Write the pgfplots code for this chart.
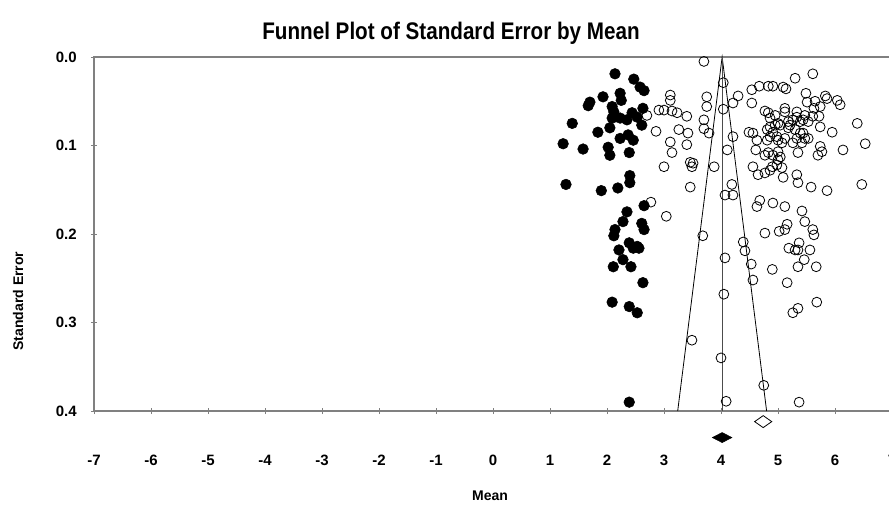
\documentclass[border=0pt]{standalone}
\usepackage{pgfplots}
\pgfplotsset{compat=1.18}
\usepackage{fontspec}
\setmainfont{Liberation Sans}

\begin{document}
\begin{tikzpicture}
\path[use as bounding box] (-70.5pt,-71.25pt) rectangle (596.25pt,308.25pt);
\clip (-70.5pt,-71.25pt) rectangle (596.25pt,308.25pt);
\begin{axis}[
  at={(0pt,0pt)}, anchor=south west,
  scale only axis,
  width=598.5pt, height=265.5pt,
  xmin=-7, xmax=7, ymin=0, ymax=0.4,
  y dir=reverse,
  xtick={-7,-6,...,7},
  ytick={0,0.1,0.2,0.3,0.4},
  xtick pos=bottom, ytick pos=left,
  tick align=center,
  major tick length=4.5pt,
  axis line style={gray, line width=0.8pt},
  tick style={gray, line width=0.6pt},
  clip=false,
  /pgf/number format/assume math mode=true,
  ticklabel style={font=\bfseries\fontsize{11.25}{13}\selectfont, inner sep=0pt},
  xticklabel style={anchor=center, yshift=-34.5pt},
  yticklabel style={anchor=east, xshift=-10.5pt,
    /pgf/number format/fixed, /pgf/number format/fixed zerofill,
    /pgf/number format/precision=1},
]
% studies
\addplot[only marks, mark=o, mark size=3.7pt, mark options={line width=0.6pt}, black] coordinates {
(3.70,0.005) (3.11,0.043) (3.11,0.049) (2.91,0.060) (3.00,0.060) (3.14,0.061)
(3.23,0.063) (3.40,0.067) (2.70,0.066) (3.75,0.045) (3.75,0.056) (3.70,0.071)
(3.70,0.081) (3.79,0.086) (4.04,0.029) (4.21,0.052) (4.04,0.059) (4.30,0.044)
(2.86,0.084) (3.26,0.082) (3.42,0.086) (3.11,0.096) (3.40,0.099) (3.14,0.108)
(4.21,0.090) (4.11,0.105) (3.46,0.119) (3.49,0.124) (3.51,0.120) (3.00,0.124)
(3.88,0.124) (3.46,0.147) (4.19,0.144) (4.07,0.156) (4.21,0.156) (2.77,0.164)
(3.04,0.180) (3.68,0.202) (4.07,0.227) (4.05,0.268) (3.49,0.320) (4.00,0.340)
(4.09,0.389)
(5.61,0.019) (5.30,0.024) (4.54,0.037) (4.67,0.033) (4.83,0.033) (4.91,0.033)
(5.09,0.034) (5.14,0.036) (5.49,0.041) (5.83,0.044) (5.86,0.047) (6.04,0.049)
(6.09,0.054) (5.51,0.051) (5.65,0.050) (4.54,0.052) (4.77,0.061) (4.83,0.063)
(4.95,0.066) (5.12,0.058) (5.12,0.062) (5.33,0.062) (5.33,0.068) (5.63,0.058)
(5.74,0.056) (5.72,0.067) (5.61,0.067) (5.47,0.066) (5.44,0.071) (5.53,0.073)
(6.39,0.075) (4.86,0.069) (5.00,0.075) (4.95,0.077) (4.49,0.085) (4.56,0.086)
(4.81,0.082) (4.86,0.079) (4.86,0.090) (4.91,0.085) (4.98,0.090) (5.04,0.077)
(5.18,0.073) (5.26,0.071) (5.21,0.077) (5.18,0.080) (5.30,0.082) (5.39,0.086)
(5.39,0.073) (5.74,0.079) (5.95,0.085) (5.44,0.086) (5.47,0.092) (4.63,0.094)
(4.81,0.094) (5.00,0.094) (5.07,0.097) (5.12,0.092) (5.26,0.097) (5.42,0.097)
(5.33,0.092) (5.53,0.092) (6.53,0.098) (4.61,0.105) (6.14,0.105) (5.74,0.101)
(5.77,0.107) (5.70,0.111) (4.77,0.111) (4.83,0.108) (4.91,0.111) (5.00,0.107)
(5.04,0.113) (4.98,0.122) (5.00,0.116) (5.35,0.108) (4.56,0.124) (4.65,0.133)
(4.77,0.131) (4.86,0.128) (4.90,0.124) (5.07,0.125) (5.09,0.136) (5.33,0.133)
(5.35,0.142) (5.58,0.147) (5.86,0.151) (6.47,0.144) (4.68,0.162) (4.63,0.169)
(4.91,0.165) (5.12,0.169) (5.42,0.174) (5.47,0.186) (5.16,0.189) (5.12,0.195)
(5.02,0.197) (5.61,0.195) (5.63,0.201) (4.77,0.199) (4.39,0.209) (4.42,0.219)
(5.37,0.210) (5.35,0.218) (5.30,0.218) (5.19,0.216) (5.56,0.218) (5.46,0.229)
(4.53,0.234) (4.56,0.252) (4.90,0.240) (5.35,0.237) (5.67,0.237) (5.16,0.255)
(5.68,0.277) (5.35,0.284) (5.26,0.289) (4.75,0.371) (5.37,0.390)
};
% imputed studies
\addplot[only marks, mark=*, mark size=4pt, black] coordinates {
(2.14,0.019) (2.47,0.025) (2.58,0.034) (2.65,0.038) (1.93,0.045) (1.70,0.051)
(1.67,0.055) (2.23,0.041) (2.25,0.049) (2.09,0.056) (2.12,0.062) (2.63,0.058)
(2.44,0.063) (1.39,0.075) (2.09,0.069) (2.23,0.069) (2.35,0.071) (2.53,0.068)
(2.61,0.077) (2.05,0.080) (1.84,0.085) (2.23,0.092) (2.37,0.088) (2.46,0.094)
(1.23,0.098) (1.58,0.104) (2.02,0.102) (2.05,0.111) (2.39,0.108) (2.40,0.134)
(2.40,0.142) (1.28,0.144) (1.90,0.151) (2.19,0.148) (2.65,0.168) (2.35,0.175)
(2.28,0.186) (2.61,0.188) (2.65,0.195) (2.14,0.195) (2.12,0.202) (2.39,0.210)
(2.46,0.216) (2.56,0.216) (2.21,0.218) (2.53,0.214) (2.28,0.229) (2.42,0.237)
(2.11,0.237) (2.63,0.255) (2.09,0.277) (2.39,0.282) (2.53,0.289) (2.39,0.390)
};
% funnel
\addplot[black, line width=0.6pt] coordinates {(3.24,0.4) (4.02,0) (4.80,0.4)};
\addplot[black!70, line width=0.7pt] coordinates {(4.02,0) (4.02,0.4)};
% summary diamonds
\addplot[only marks, mark=diamond*, mark size=3.75pt, mark options={xscale=2.6, fill=black}, black] coordinates {(4.02,0.430)};
\addplot[only marks, mark=diamond, mark size=4.5pt, mark options={xscale=1.9, line width=0.6pt}, black] coordinates {(4.74,0.412)};
\end{axis}
\node[font=\bfseries\fontsize{18}{20}\selectfont, xscale=0.86] at (267.75pt,283.5pt) {Funnel Plot of Standard Error by Mean};
\node[rotate=90, font=\bfseries\fontsize{10.5}{12}\selectfont] at (-57pt,82.5pt) {Standard Error};
\node[font=\bfseries\fontsize{10.5}{12}\selectfont] at (297pt,-63.75pt) {Mean};
\end{tikzpicture}
\end{document}
